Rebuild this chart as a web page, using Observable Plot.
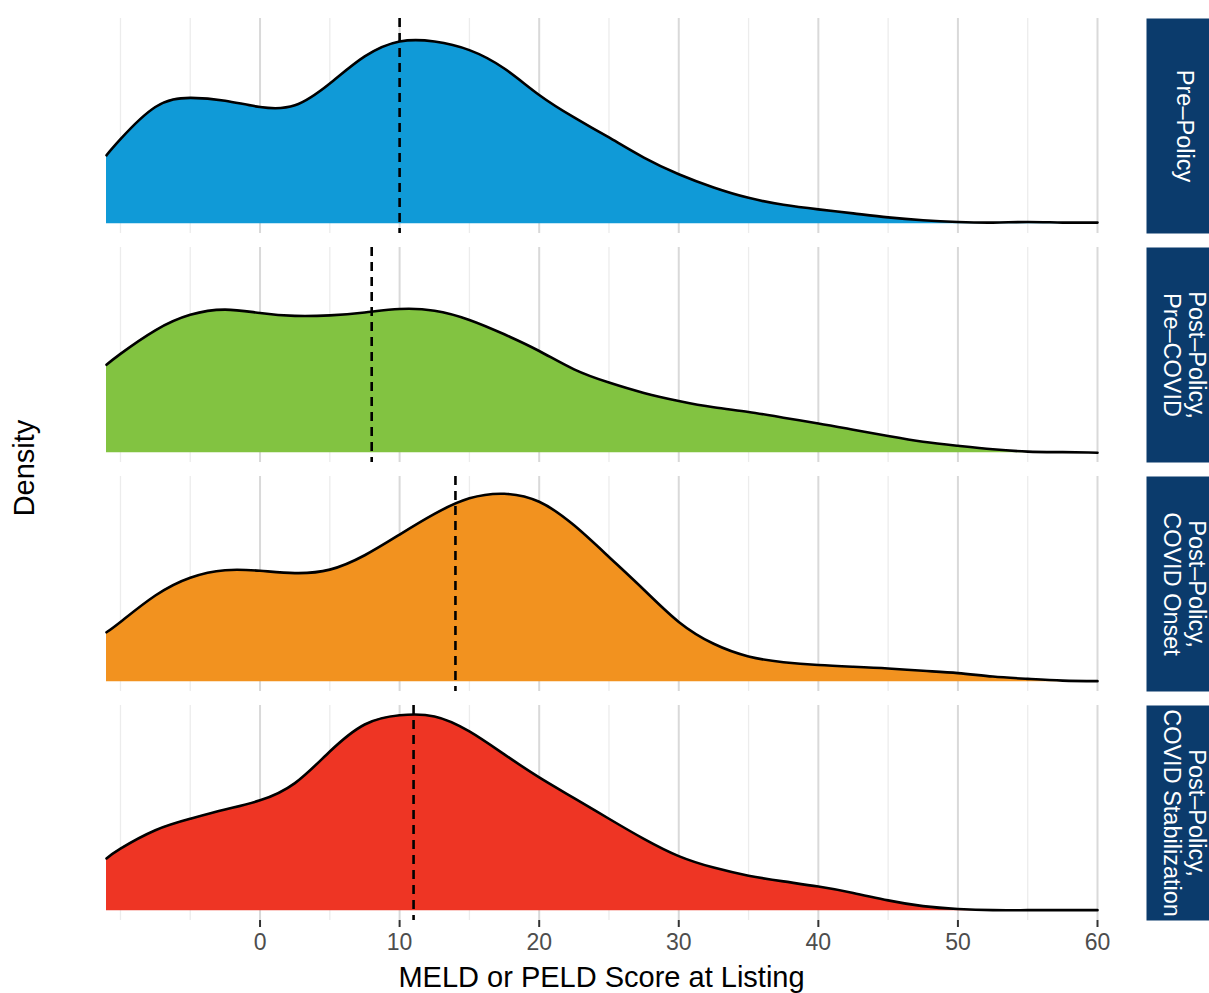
<!DOCTYPE html>
<html><head><meta charset="utf-8">
<script src="https://cdn.jsdelivr.net/npm/d3@7"></script>
<script src="https://cdn.jsdelivr.net/npm/@observablehq/plot@0.6"></script>
<style>body{margin:0;background:#fff}</style>
</head><body><div id="chart"></div>
<script>
const groups = ["Pre\u2013Policy", "Post\u2013Policy,\nPre\u2013COVID", "Post\u2013Policy,\nCOVID Onset", "Post\u2013Policy,\nCOVID Stabilization"];
const colors = ["#109ad7", "#82c341", "#f2921f", "#ee3524"];
const xValues = [-11,-10,-7.5,-5,-2.5,0,2.5,5,7.5,10,12.5,15,17.5,20,22.5,25,27.5,30,32.5,35,37.5,40,42.5,45,47.5,50,52.5,55,57.5,60];
const prePolicy = [0.0119,0.0147,0.0203,0.0219,0.0214,0.0203,0.0206,0.0244,0.0291,0.0317,0.0317,0.0302,0.0270,0.0224,0.0185,0.0150,0.0115,0.0086,0.0063,0.0045,0.0033,0.0025,0.0018,0.0011,0.0006,0.0003,0.0002,0.0003,0.0002,0.0002];
const postPreCovid = [0.0153,0.0172,0.0213,0.0240,0.0249,0.0243,0.0238,0.0239,0.0244,0.0250,0.0247,0.0231,0.0206,0.0177,0.0145,0.0122,0.0104,0.0090,0.0079,0.0071,0.0061,0.0051,0.0040,0.0029,0.0019,0.0012,0.0006,0.0002,0.0001,0.0000];
const postCovidOnset = [0.0086,0.0104,0.0150,0.0181,0.0194,0.0193,0.0189,0.0195,0.0220,0.0256,0.0292,0.0319,0.0327,0.0313,0.0272,0.0217,0.0160,0.0104,0.0066,0.0044,0.0034,0.0029,0.0026,0.0023,0.0019,0.0015,0.0009,0.0005,0.0002,0.0001];
const postCovidStab = [0.0091,0.0108,0.0140,0.0160,0.0176,0.0192,0.0222,0.0277,0.0324,0.0340,0.0338,0.0312,0.0272,0.0232,0.0196,0.0160,0.0125,0.0095,0.0075,0.0061,0.0051,0.0042,0.0031,0.0018,0.0008,0.0003,0.0001,0.0001,0.0001,0.0001];
const meanScores = [10, 8, 14, 11];
const majorTicks = [0,10,20,30,40,50,60];
const minorTicks = [-10,-5,5,15,25,35,45,55];

const series = [prePolicy, postPreCovid, postCovidOnset, postCovidStab];
const rows = [];
groups.forEach((g, i) => series[i].forEach((d, j) => rows.push({group: g, x: xValues[j], density: d})));
const meanRows = groups.map((g, i) => ({group: g, mean: meanScores[i]}));
const maxD = d3.max(rows, d => d.density);
const font = "'Liberation Sans', Arial, Helvetica, sans-serif";

const plot = Plot.plot({
  width: 1209, height: 993,
  marginLeft: 106, marginRight: 112, marginTop: 17, marginBottom: 73,
  style: {fontFamily: font, background: "white"},
  x: {domain: [-11, 60]},
  y: {domain: [-0.05 * maxD, 1.05 * maxD], axis: null},
  fy: {domain: groups, paddingInner: 0.0633, paddingOuter: 0, axis: null},
  color: {domain: groups, range: colors},
  marks: [
    Plot.frame({fill: "#0b3b6c", stroke: "none", insetLeft: 1040, insetRight: -112}),
    Plot.ruleX(minorTicks, {stroke: "#ececec", strokeWidth: 1.3}),
    Plot.ruleX(majorTicks, {stroke: "#d9d9d9", strokeWidth: 2}),
    Plot.areaY(rows, {x: "x", y: "density", fy: "group", fill: "group", curve: "natural"}),
    Plot.lineY(rows, {x: "x", y: "density", fy: "group", stroke: "black", strokeWidth: 2.6, curve: "natural"}),
    Plot.ruleX(meanRows, {x: "mean", fy: "group", stroke: "black", strokeWidth: 2.6, strokeDasharray: "9,6"}),
    Plot.text(groups, {fy: d => d, text: d => d, frameAnchor: "right", textAnchor: "middle", dx: 87, rotate: 90, fill: "white", fontSize: 23.5, lineHeight: 1.04}),
    Plot.axisX({ticks: majorTicks, tickSize: 7, tickPadding: 6, fontSize: 23, fill: "#4d4d4d", stroke: "#333", strokeWidth: 2, label: null})
  ]
});

const svg = d3.select(plot);
svg.append("text")
  .attr("transform", "translate(34,468) rotate(-90)")
  .attr("text-anchor", "middle")
  .attr("font-size", 29).attr("font-family", font).attr("fill", "black")
  .text("Density");
svg.append("text")
  .attr("x", 601.5).attr("y", 987)
  .attr("text-anchor", "middle")
  .attr("font-size", 29).attr("font-family", font).attr("fill", "black")
  .text("MELD or PELD Score at Listing");

document.getElementById("chart").appendChild(plot);
</script>
</body></html>
